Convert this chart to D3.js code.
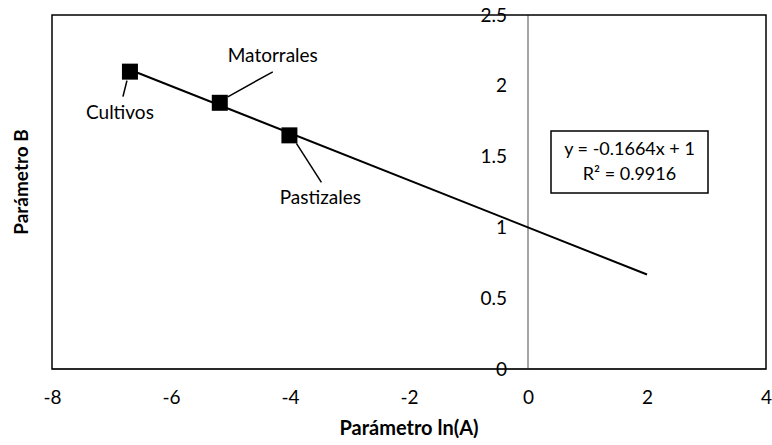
<!DOCTYPE html>
<html>
<head>
<meta charset="utf-8">
<script src="https://cdn.jsdelivr.net/npm/d3@7"></script>
<style>
  body { margin: 0; background: #fff; }
  text { font-family: Lato, "Open Sans", sans-serif; fill: #000; }
</style>
</head>
<body>
<div id="chart-area"></div>
<script>
// data
var categories = ["Cultivos", "Matorrales", "Pastizales"];
var lnA = [-6.69, -5.18, -4.01];
var paramB = [2.10, 1.88, 1.65];

// trendline y = slope*x + intercept, drawn from first point to x = 2
var slope = -0.1664;
var intercept = 1;
var trendStart = -6.69;
var trendEnd = 2;

var xTicks = [-8, -6, -4, -2, 0, 2, 4];
var yTicks = [0, 0.5, 1, 1.5, 2, 2.5];

var margin = { left: 52, right: 6, top: 15, bottom: 76 };
var W = 772, H = 445;
var width = W - margin.left - margin.right;
var height = H - margin.top - margin.bottom;

var svg = d3.select("#chart-area")
    .append("svg")
    .attr("width", W)
    .attr("height", H);

var g = svg.append("g")
    .attr("transform", "translate(" + margin.left + "," + margin.top + ")");

var x = d3.scaleLinear().domain([-8, 4]).range([0, width]);
var y = d3.scaleLinear().domain([0, 2.5]).range([height, 0]);

// gray axis lines crossing at zero
g.append("line")
    .attr("x1", 0).attr("x2", width)
    .attr("y1", y(0)).attr("y2", y(0))
    .attr("stroke", "#868686").attr("stroke-width", 1.5);
g.append("line")
    .attr("x1", x(0)).attr("x2", x(0))
    .attr("y1", 0).attr("y2", height)
    .attr("stroke", "#868686").attr("stroke-width", 1.5);

// x tick labels under the plot
var xAxisCall = d3.axisBottom(x).tickValues(xTicks).tickSize(0).tickPadding(22)
    .tickFormat(function(d){ return d; });
var xa = g.append("g")
    .attr("class", "x-axis")
    .attr("transform", "translate(0," + height + ")")
    .call(xAxisCall);
xa.select(".domain").remove();
xa.selectAll("text").attr("font-size", "19px").style("font-family", "Lato");

// y tick labels sit at the x = 0 axis
var yAxisCall = d3.axisLeft(y).tickValues(yTicks).tickSize(0).tickPadding(21)
    .tickFormat(function(d){ return d; });
var ya = g.append("g")
    .attr("class", "y-axis")
    .attr("transform", "translate(" + x(0) + ",0)")
    .call(yAxisCall);
ya.select(".domain").remove();
ya.selectAll("text").attr("font-size", "19px").style("font-family", "Lato");

// plot frame
g.append("rect")
    .attr("x", 0).attr("y", 0)
    .attr("width", width).attr("height", height)
    .attr("fill", "none")
    .attr("stroke", "#000").attr("stroke-width", 1.5);

// trendline
g.append("line")
    .attr("x1", x(trendStart)).attr("y1", y(slope * trendStart + intercept))
    .attr("x2", x(trendEnd)).attr("y2", y(slope * trendEnd + intercept))
    .attr("stroke", "#000").attr("stroke-width", 2);

var data = categories.map(function(c, i){
    return { name: c, x: lnA[i], y: paramB[i] };
});

// leader lines and labels (offsets in pixels from the marker)
var labelPos = {
    "Cultivos":   { lx: -10, ly: 43, l1: [-3, 9], l2: [-7, 25] },
    "Matorrales": { lx: 53, ly: -46, l1: [8, -6], l2: [53, -31] },
    "Pastizales": { lx: 31, ly: 64, l1: [7, 8], l2: [32, 47] }
};

g.selectAll(".leader")
    .data(data)
    .enter()
    .append("line")
    .attr("class", "leader")
    .attr("x1", function(d){ return x(d.x) + labelPos[d.name].l1[0]; })
    .attr("y1", function(d){ return y(d.y) + labelPos[d.name].l1[1]; })
    .attr("x2", function(d){ return x(d.x) + labelPos[d.name].l2[0]; })
    .attr("y2", function(d){ return y(d.y) + labelPos[d.name].l2[1]; })
    .attr("stroke", "#000").attr("stroke-width", 1.5);

g.selectAll(".marker")
    .data(data)
    .enter()
    .append("rect")
    .attr("class", "marker")
    .attr("x", function(d){ return x(d.x) - 8; })
    .attr("y", function(d){ return y(d.y) - 8; })
    .attr("width", 16).attr("height", 16)
    .attr("fill", "#000");

g.selectAll(".pt-label")
    .data(data)
    .enter()
    .append("text")
    .attr("class", "pt-label")
    .attr("x", function(d){ return x(d.x) + labelPos[d.name].lx; })
    .attr("y", function(d){ return y(d.y) + labelPos[d.name].ly; })
    .attr("text-anchor", "middle")
    .attr("dominant-baseline", "middle")
    .attr("font-size", "19px")
    .text(function(d){ return d.name; });

// equation box
var eq = g.append("g").attr("transform", "translate(" + (x(0) + 23) + ",116)");
eq.append("rect")
    .attr("width", 157).attr("height", 62)
    .attr("fill", "#fff").attr("stroke", "#000").attr("stroke-width", 1.5);
eq.append("text")
    .attr("x", 78.5).attr("y", 19)
    .attr("text-anchor", "middle").attr("dominant-baseline", "middle")
    .attr("font-size", "18px")
    .text("y = " + slope + "x + " + intercept);
eq.append("text")
    .attr("x", 78.5).attr("y", 44)
    .attr("text-anchor", "middle").attr("dominant-baseline", "middle")
    .attr("font-size", "18px")
    .text("R² = 0.9916");

// axis titles
svg.append("text")
    .attr("x", margin.left + width / 2)
    .attr("y", 430)
    .attr("text-anchor", "middle")
    .attr("dominant-baseline", "middle")
    .attr("font-size", "20px")
    .attr("font-weight", "bold")
    .text("Parámetro ln(A)");

svg.append("text")
    .attr("transform", "translate(23," + (margin.top + height / 2 - 10) + ") rotate(-90)")
    .attr("text-anchor", "middle")
    .attr("dominant-baseline", "middle")
    .attr("font-size", "19px")
    .attr("font-weight", "bold")
    .text("Parámetro B");
</script>
</body>
</html>
